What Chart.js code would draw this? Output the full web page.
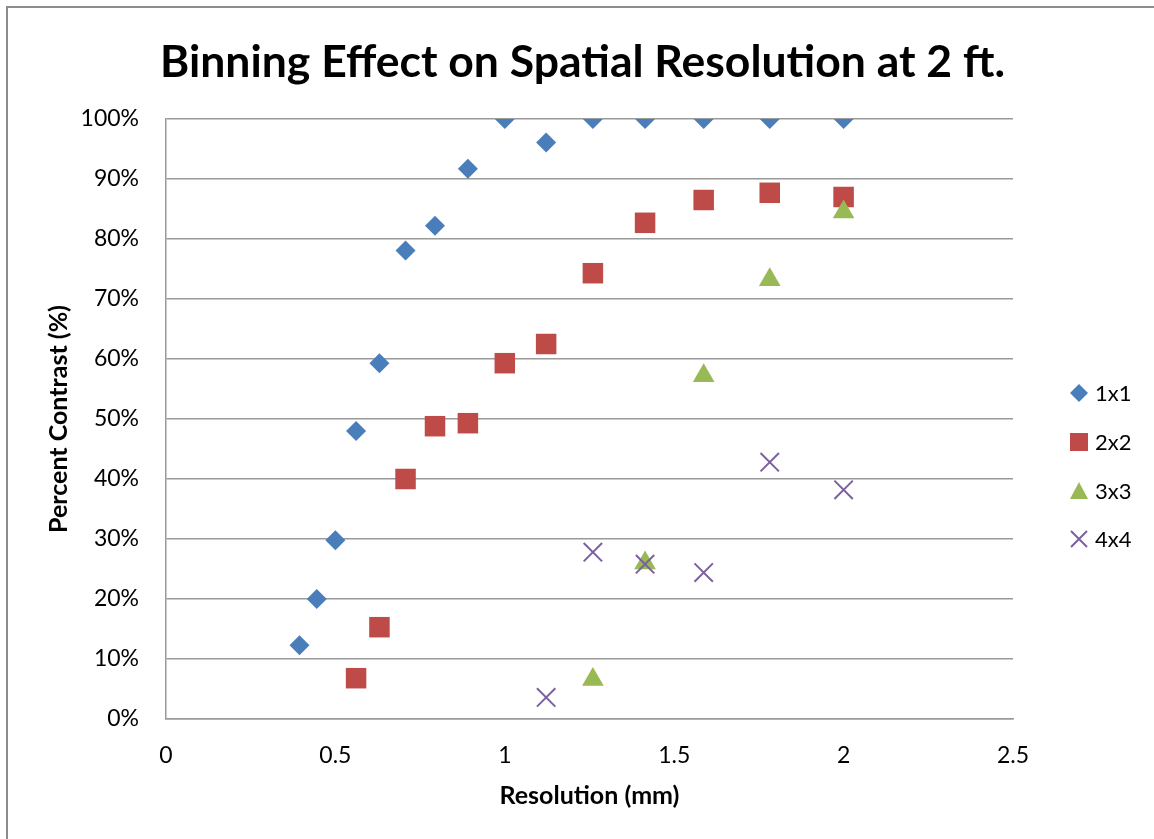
<!DOCTYPE html>
<html>
<head>
<meta charset="utf-8">
<script src="https://cdn.jsdelivr.net/npm/chart.js@4/dist/chart.umd.min.js"></script>
<style>
  body { margin: 0; background: #fff; }
  canvas { display: block; }
</style>
</head>
<body>
<canvas id="chart" width="1154" height="839"></canvas>
<script>
// Data
const seriesNames = ['1x1', '2x2', '3x3', '4x4'];

const x1x1 = [0.394, 0.445, 0.5, 0.561, 0.63, 0.707, 0.794, 0.891, 1.0, 1.122, 1.26, 1.414, 1.587, 1.782, 2.0];
const y1x1 = [12.3, 20, 29.8, 48, 59.3, 78.1, 82.2, 91.7, 100, 96.1, 100, 100, 100, 100, 100];

const x2x2 = [0.561, 0.63, 0.707, 0.794, 0.891, 1.0, 1.122, 1.26, 1.414, 1.587, 1.782, 2.0];
const y2x2 = [6.8, 15.3, 40, 48.8, 49.3, 59.3, 62.5, 74.3, 82.7, 86.5, 87.7, 87];

const x3x3 = [1.26, 1.414, 1.587, 1.782, 2.0];
const y3x3 = [6.6, 26, 57.2, 73.2, 84.5];

const x4x4 = [1.122, 1.26, 1.414, 1.587, 1.782, 2.0];
const y4x4 = [3.6, 27.8, 25.8, 24.4, 42.8, 38.2];

const xTicks = [0, 0.5, 1, 1.5, 2, 2.5];

const colors = ['#4a7ebb', '#be4b48', '#98b954', '#7d60a0'];
const FONT = 'Lato, "Open Sans", sans-serif';

const toPoints = (xs, ys) => xs.map((x, i) => ({x: x, y: ys[i]}));

// white page with the grey frame at top/left
const framePlugin = {
    id: 'frame',
    beforeDraw(chart) {
        const ctx = chart.ctx;
        ctx.save();
        ctx.fillStyle = '#fff';
        ctx.fillRect(0, 0, chart.width, chart.height);
        ctx.fillStyle = '#8c8c8c';
        ctx.fillRect(6, 6, chart.width, 2);
        ctx.fillRect(6, 6, 2, chart.height);
        ctx.restore();
    }
};

// legend on the right, drawn by hand like Excel's
const legendPlugin = {
    id: 'sideLegend',
    afterDraw(chart) {
        const ctx = chart.ctx;
        const ys = [393, 442, 491, 539];
        const mx = 1079;
        ctx.save();
        ctx.font = '22px ' + FONT;
        ctx.textBaseline = 'middle';
        ctx.textAlign = 'left';
        seriesNames.forEach((name, i) => {
            const y = ys[i];
            ctx.fillStyle = colors[i];
            ctx.strokeStyle = colors[i];
            ctx.beginPath();
            if (i === 0) {
                ctx.moveTo(mx, y - 9); ctx.lineTo(mx + 9, y); ctx.lineTo(mx, y + 9); ctx.lineTo(mx - 9, y);
                ctx.closePath(); ctx.fill();
            } else if (i === 1) {
                ctx.rect(mx - 9, y - 9, 18, 18); ctx.fill();
            } else if (i === 2) {
                ctx.moveTo(mx, y - 9); ctx.lineTo(mx + 9, y + 8); ctx.lineTo(mx - 9, y + 8);
                ctx.closePath(); ctx.fill();
            } else {
                ctx.lineWidth = 2;
                ctx.moveTo(mx - 8, y - 8); ctx.lineTo(mx + 8, y + 8);
                ctx.moveTo(mx + 8, y - 8); ctx.lineTo(mx - 8, y + 8);
                ctx.stroke();
            }
            ctx.fillStyle = '#000';
            ctx.fillText(name, 1095, y + 1);
        });
        ctx.restore();
    }
};

new Chart(document.getElementById('chart').getContext('2d'), {
    type: 'scatter',
    data: {
        datasets: [
            {
                label: seriesNames[0],
                data: toPoints(x1x1, y1x1),
                pointStyle: 'rectRot',
                pointRadius: 10,
                backgroundColor: colors[0],
                borderColor: colors[0],
                borderWidth: 0,
                order: 3
            },
            {
                label: seriesNames[1],
                data: toPoints(x2x2, y2x2),
                pointStyle: 'rect',
                pointRadius: 14.5,
                backgroundColor: colors[1],
                borderColor: colors[1],
                borderWidth: 0,
                order: 2
            },
            {
                label: seriesNames[2],
                data: toPoints(x3x3, y3x3),
                pointStyle: 'triangle',
                pointRadius: 12.5,
                backgroundColor: colors[2],
                borderColor: colors[2],
                borderWidth: 0,
                order: 1
            },
            {
                label: seriesNames[3],
                data: toPoints(x4x4, y4x4),
                pointStyle: 'crossRot',
                pointRadius: 13,
                backgroundColor: colors[3],
                borderColor: colors[3],
                borderWidth: 2,
                order: 0
            }
        ]
    },
    options: {
        responsive: false,
        animation: false,
        layout: { padding: { left: 11, right: 0, top: 0, bottom: 0 } },
        plugins: {
            legend: { display: false },
            tooltip: { enabled: false },
            title: {
                display: true,
                text: 'Binning Effect on Spatial Resolution at 2 ft.',
                color: '#000',
                font: { family: FONT, size: 44.5, weight: 'bold', lineHeight: 1.2 },
                padding: { top: 36, bottom: 29.6 }
            }
        },
        scales: {
            x: {
                type: 'linear',
                min: 0,
                max: 2.5,
                afterBuildTicks: scale => { scale.ticks = xTicks.map(v => ({value: v})); },
                afterFit: scale => { scale.height = 120; },
                grid: { display: false, drawTicks: false },
                border: { display: true, color: '#9a9a9a', width: 1.5 },
                ticks: {
                    color: '#000',
                    font: { family: FONT, size: 23 },
                    padding: 23,
                    maxRotation: 0,
                    callback: v => String(v)
                },
                title: {
                    display: true,
                    text: 'Resolution (mm)',
                    color: '#000',
                    font: { family: FONT, size: 25, weight: 'bold', lineHeight: 1.2 },
                    padding: { top: 0, bottom: 28 }
                }
            },
            y: {
                type: 'linear',
                min: 0,
                max: 100,
                afterFit: scale => { scale.width = 155; },
                grid: { color: '#9a9a9a', lineWidth: 1.5, drawTicks: false },
                border: { display: true, color: '#9a9a9a', width: 1.5 },
                ticks: {
                    stepSize: 10,
                    color: '#000',
                    font: { family: FONT, size: 23 },
                    padding: 27,
                    callback: v => v + '%'
                },
                title: {
                    display: true,
                    text: 'Percent Contrast (%)',
                    color: '#000',
                    font: { family: FONT, size: 25, weight: 'bold', lineHeight: 1.2 },
                    padding: { top: 33, bottom: 0 }
                }
            },
            // empty right-hand box that holds the room for the legend
            yPad: {
                type: 'linear',
                axis: 'y',
                position: 'right',
                afterFit: scale => { scale.width = 141; },
                grid: { display: false, drawTicks: false },
                border: { display: false },
                ticks: { display: false }
            }
        }
    },
    plugins: [framePlugin, legendPlugin]
});
</script>
</body>
</html>
